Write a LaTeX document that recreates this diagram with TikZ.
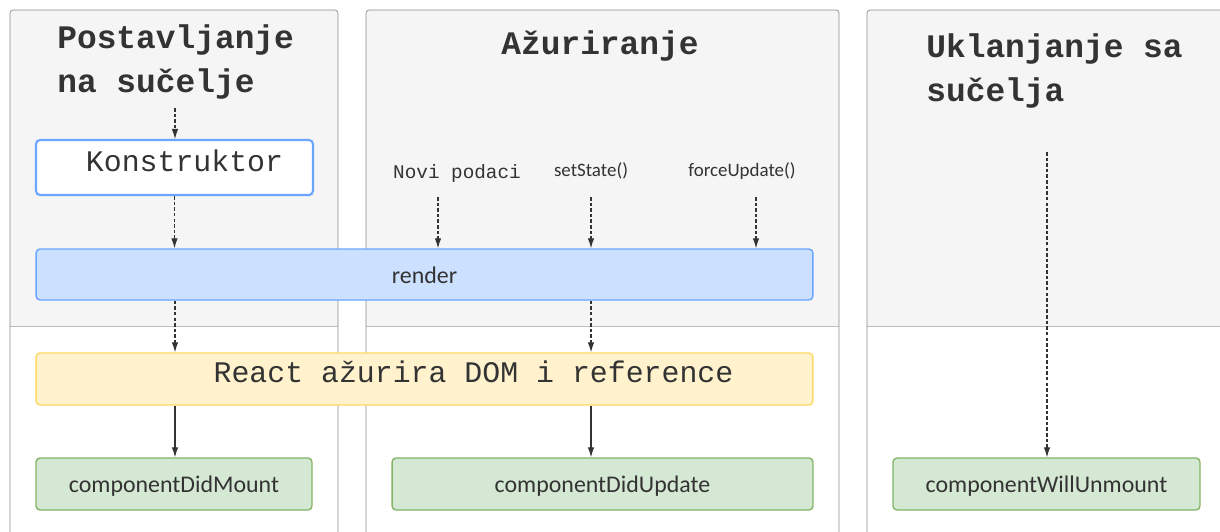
\documentclass[tikz,border=0pt]{standalone}
\usepackage{fontspec}
\usetikzlibrary{arrows.meta}
\newfontfamily\monofont{Liberation Mono}
\newfontfamily\boxfont{Carlito}
\definecolor{panelgray}{HTML}{F5F5F5}
\definecolor{panelline}{HTML}{8C8C8C}
\definecolor{splitline}{HTML}{BDBDBD}
\definecolor{blueline}{HTML}{6AA5FF}
\definecolor{bluefill}{HTML}{CCE0FF}
\definecolor{yellowline}{HTML}{FFD966}
\definecolor{yellowfill}{HTML}{FFF2CC}
\definecolor{greenline}{HTML}{82B366}
\definecolor{greenfill}{HTML}{D5E8D4}
\definecolor{ink}{HTML}{333333}
\begin{document}
\begin{tikzpicture}[x=0.02cm, y=-0.02cm,
  box/.style={draw, rounded corners=0.08cm, line width=0.8pt, inner sep=0pt, text=ink,
    text height=0.4cm, text depth=0.05cm, font=\boxfont\fontsize{13.6}{16}\selectfont},
  startbox/.style={box, draw=blueline, line width=1.2pt, fill=white,
    text height=0.3cm, text depth=0.14cm, font=\monofont\fontsize{17}{20}\selectfont},
  renderbox/.style={box, draw=blueline, fill=bluefill},
  dombox/.style={box, draw=yellowline, fill=yellowfill,
    text height=0.3cm, text depth=0.16cm, font=\monofont\fontsize{17}{20}\selectfont},
  hookbox/.style={box, draw=greenline, fill=greenfill},
  title/.style={font=\monofont\bfseries\fontsize{18.7}{25}\selectfont, text=ink, align=left, inner sep=0pt},
  cause/.style={text=ink, inner sep=0pt},
  call/.style={draw=ink, line width=0.6pt, -{Latex[length=0.2cm,width=0.13cm]}},
  maybe/.style={call, dash pattern=on 2pt off 1.2pt}
]
\clip (0,0) rectangle (1220,531);
% panels
\fill[panelgray] (10,326) [rounded corners=0.06cm] -- (10,10) -- (338,10) [sharp corners] -- (338,326) -- cycle;
\fill[panelgray] (366,326) [rounded corners=0.06cm] -- (366,10) -- (839,10) [sharp corners] -- (839,326) -- cycle;
\fill[panelgray] (867,326) [rounded corners=0.06cm] -- (867,10) -- (1240,10) [sharp corners] -- (1240,326) -- cycle;
\draw[splitline] (10,326) -- (338,326);
\draw[splitline] (366,326) -- (839,326);
\draw[splitline] (867,326) -- (1240,326);
\draw[panelline] (10,545) [rounded corners=0.06cm] -- (10,10) -- (338,10) [sharp corners] -- (338,545);
\draw[panelline] (366,545) [rounded corners=0.06cm] -- (366,10) -- (839,10) [sharp corners] -- (839,545);
\draw[panelline] (867,545) [rounded corners=0.06cm] -- (867,10) -- (1240,10) [sharp corners] -- (1240,545);

% titles (base = last line)
\node(mount) [title, anchor=base west] at (57,92) {Postavljanje\\na sučelje};
\node(update) [title, anchor=base] at (600,54) {Ažuriranje};
\node(unmount) [title, anchor=base west] at (926,101) {Uklanjanje sa\\sučelja};

% triggers
\node(props) [cause, anchor=base, font=\monofont\fontsize{11}{13}\selectfont] at (457,178) {Novi podaci};
\node(state) [cause, anchor=base, font=\boxfont\fontsize{10.8}{13}\selectfont] at (591,176) {setState()};
\node(force) [cause, anchor=base, font=\boxfont\fontsize{10.8}{13}\selectfont] at (742,176) {forceUpdate()};

% boxes
\node(ctor) [startbox, minimum width=5.54cm, minimum height=1.1cm] at (174.5,167.5) {\hspace*{0.4cm}Konstruktor};
\node(render) [renderbox, minimum width=15.54cm, minimum height=1.02cm] at (424.5,274.5) {render};
\node(dom) [dombox, minimum width=15.54cm, minimum height=1.04cm] at (424.5,379) {\hspace*{1.96cm}React ažurira DOM i reference};
\node(didmount) [hookbox, minimum width=5.52cm, minimum height=1.04cm] at (174,484) {componentDidMount};
\node(didupdate) [hookbox, minimum width=8.42cm, minimum height=1.04cm] at (602.5,484) {componentDidUpdate};
\node(willunmount) [hookbox, minimum width=6.14cm, minimum height=1.04cm] at (1046.5,484) {componentWillUnmount};

% loose ends of the dashed arrows
\coordinate(mountin) at (175,108);
\coordinate(propsout) at (438,197);
\coordinate(stateout) at (591,197);
\coordinate(forceout) at (756,197);
\coordinate(unmountin) at (1047,152);

\draw[maybe] (mountin) to (ctor.north -| mountin);
\draw[maybe] (ctor) to (render.north -| ctor);
\draw[maybe] (propsout) to (render.north -| propsout);
\draw[maybe] (stateout) to (render.north -| stateout);
\draw[maybe] (forceout) to (render.north -| forceout);
\draw[maybe] (render.south -| mountin) to (dom.north -| mountin);
\draw[maybe] (render.south -| stateout) to (dom.north -| stateout);
\draw[call] (dom.south -| mountin) to (didmount.north -| mountin);
\draw[call] (dom.south -| stateout) to (didupdate.north -| stateout);
\draw[maybe] (unmountin) to (willunmount.north -| unmountin);
\end{tikzpicture}
\end{document}
